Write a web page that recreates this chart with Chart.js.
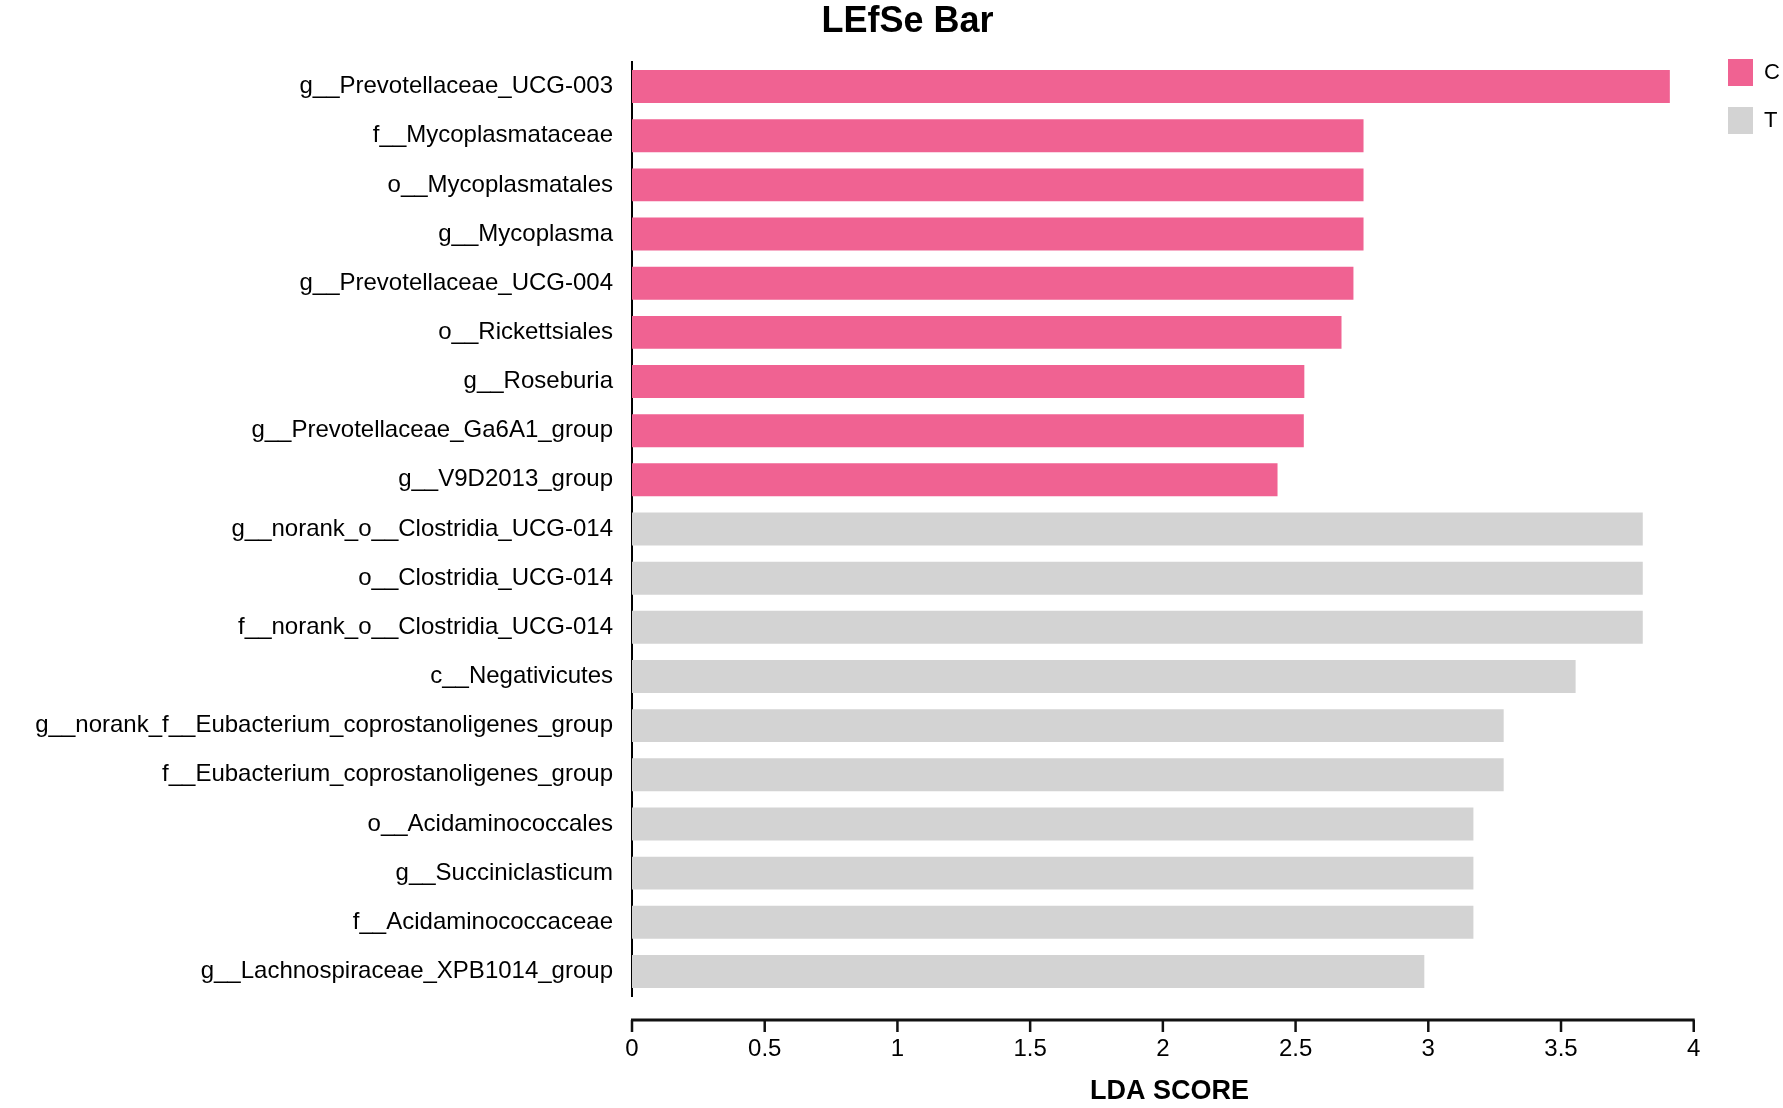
<!DOCTYPE html>
<html>
<head>
<meta charset="utf-8">
<script src="https://cdn.jsdelivr.net/npm/chart.js@4.4.1/dist/chart.umd.min.js"></script>
<style>
  html, body { margin: 0; padding: 0; background: #fff; }
  canvas { display: block; }
</style>
</head>
<body>
<canvas id="lefse" width="1783" height="1108"></canvas>
<script>
const taxa = [
  'g__Prevotellaceae_UCG-003',
  'f__Mycoplasmataceae',
  'o__Mycoplasmatales',
  'g__Mycoplasma',
  'g__Prevotellaceae_UCG-004',
  'o__Rickettsiales',
  'g__Roseburia',
  'g__Prevotellaceae_Ga6A1_group',
  'g__V9D2013_group',
  'g__norank_o__Clostridia_UCG-014',
  'o__Clostridia_UCG-014',
  'f__norank_o__Clostridia_UCG-014',
  'c__Negativicutes',
  'g__norank_f__Eubacterium_coprostanoligenes_group',
  'f__Eubacterium_coprostanoligenes_group',
  'o__Acidaminococcales',
  'g__Succiniclasticum',
  'f__Acidaminococcaceae',
  'g__Lachnospiraceae_XPB1014_group'
]
const ldaScores = [3.91, 2.756, 2.756, 2.756, 2.718, 2.673, 2.533, 2.531, 2.432,
  3.808, 3.808, 3.808, 3.555, 3.284, 3.284, 3.17, 3.17, 3.17, 2.985]
const groupOf = ['C', 'C', 'C', 'C', 'C', 'C', 'C', 'C', 'C',
  'T', 'T', 'T', 'T', 'T', 'T', 'T', 'T', 'T', 'T']
const groups = ['C', 'T']
const groupColors = { C: '#f06292', T: '#d3d3d3' }
const xTicks = [0, 0.5, 1, 1.5, 2, 2.5, 3, 3.5, 4]

const FONT = "'Liberation Sans', Arial, sans-serif"

// x axis sits a little below the bars, drawn from the x scale's own ticks
const detachedAxis = {
  id: 'detachedAxis',
  afterDraw(chart) {
    const x = chart.scales.x
    const ctx = chart.ctx
    const yLine = chart.chartArea.bottom + 24
    ctx.save()
    ctx.strokeStyle = '#111'
    ctx.lineWidth = 3
    ctx.beginPath()
    ctx.moveTo(x.getPixelForValue(xTicks[0]) - 1, yLine)
    ctx.lineTo(x.getPixelForValue(xTicks[xTicks.length - 1]) + 1, yLine)
    ctx.stroke()
    ctx.lineWidth = 2.5
    x.ticks.forEach(t => {
      const px = x.getPixelForValue(t.value)
      ctx.beginPath()
      ctx.moveTo(px, yLine)
      ctx.lineTo(px, yLine + 12)
      ctx.stroke()
    })
    ctx.restore()
  }
}

const datasets = groups.map(g => ({
  label: g,
  data: ldaScores.map((v, i) => groupOf[i] === g ? v : null),
  backgroundColor: groupColors[g],
  borderWidth: 0,
  grouped: false,
  barPercentage: 0.67,
  categoryPercentage: 1
}))

new Chart(document.getElementById('lefse').getContext('2d'), {
  type: 'bar',
  data: { labels: taxa, datasets },
  plugins: [detachedAxis],
  options: {
    indexAxis: 'y',
    responsive: false,
    animation: false,
    devicePixelRatio: 1,
    layout: { padding: { left: 32, right: 0, top: 0, bottom: 0 } },
    plugins: {
      title: {
        display: true,
        text: 'LEfSe Bar',
        color: '#000',
        font: { family: FONT, size: 36, weight: 'bold', lineHeight: 1 },
        padding: { top: 4, bottom: 22 }
      },
      legend: {
        position: 'right',
        align: 'start',
        maxWidth: 76,
        title: { display: true, text: '', padding: { top: 37, bottom: 0 }, font: { size: 1, lineHeight: 1 } },
        labels: {
          boxWidth: 25,
          boxHeight: 27,
          padding: 21,
          color: '#000',
          font: { family: FONT, size: 22 }
        }
      },
      tooltip: { enabled: false }
    },
    scales: {
      x: {
        type: 'linear',
        min: 0,
        max: 4.05,
        afterFit(scale) { scale.height = 112 },
        border: { display: false },
        grid: { display: false, drawTicks: false },
        ticks: {
          stepSize: 0.5,
          includeBounds: false,
          padding: 39,
          color: '#000',
          font: { family: FONT, size: 24 },
          callback: v => String(v)
        },
        title: {
          display: true,
          text: 'LDA SCORE',
          color: '#000',
          font: { family: FONT, size: 27, weight: 'bold', lineHeight: 1 },
          padding: { top: 0, bottom: 3 }
        }
      },
      y: {
        afterFit(scale) { scale.width = 600 },
        border: { display: true, color: '#000', width: 2 },
        grid: { display: false, drawTicks: false },
        ticks: {
          padding: 19,
          color: '#000',
          font: { family: FONT, size: 24 }
        }
      }
    }
  }
})
</script>
</body>
</html>
